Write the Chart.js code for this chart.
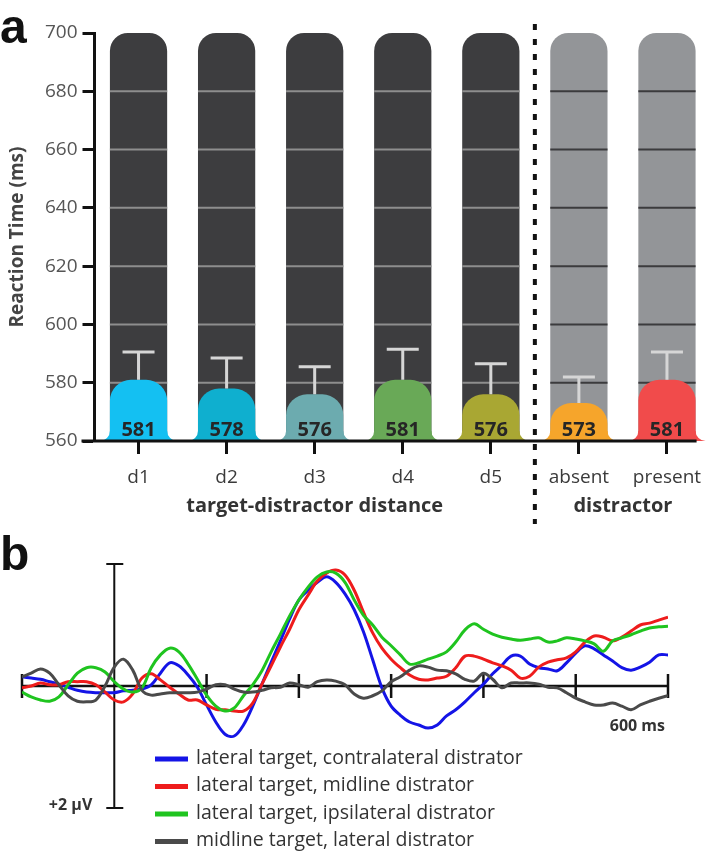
<!DOCTYPE html>
<html>
<head>
<meta charset="utf-8">
<script src="https://cdn.jsdelivr.net/npm/chart.js@4.4.1/dist/chart.umd.min.js"></script>
<style>
  body { margin: 0; background: #fff; }
  #wrap { position: relative; width: 724px; height: 853px; }
  #rtWrap { position: absolute; left: 0; top: 0; }
  #erpWrap { position: absolute; left: 0; top: 530px; }
</style>
</head>
<body>
<div id="wrap">
  <div id="rtWrap"><canvas id="rtChart" width="724" height="530"></canvas></div>
  <div id="erpWrap"><canvas id="erpChart" width="724" height="323"></canvas></div>
</div>
<script>
// ---- panel a: reaction times ----
const categories = ["d1", "d2", "d3", "d4", "d5", "absent", "present"];
const rtMeans = [581, 578, 576, 581, 576, 573, 581];
const rtErrors = [9.5, 10.5, 9.5, 10.5, 10.5, 9, 9.5];
const rtCeiling = [700, 700, 700, 700, 700, 700, 700];
const rtTicks = [560, 580, 600, 620, 640, 660, 680, 700];
const groupLabels = ["target-distractor distance", "distractor"];
const groupMembers = [[0, 1, 2, 3, 4], [5, 6]];

const barColors = ["#14c0f2", "#0fafcf", "#6cabaf", "#69a957", "#a9a733", "#f6a52b", "#f14b4b"];
const backColors = ["#3d3d3f", "#3d3d3f", "#3d3d3f", "#3d3d3f", "#3d3d3f", "#939598", "#939598"];
const innerGridColors = ["#8e8e8e", "#8e8e8e", "#8e8e8e", "#8e8e8e", "#8e8e8e", "#3b3b3d", "#3b3b3d"];

// ---- panel b: ERP waveforms (µV, negative up) ----
const times = [-100, -90, -80, -70, -60, -50, -40, -30, -20, -10,
  0, 10, 20, 30, 40, 50, 60, 70, 80, 90,
  100, 110, 120, 130, 140, 150, 160, 170, 180, 190,
  200, 210, 220, 230, 240, 250, 260, 270, 280, 290,
  300, 310, 320, 330, 340, 350, 360, 370, 380, 390,
  400, 410, 420, 430, 440, 450, 460, 470, 480, 490,
  500, 510, 520, 530, 540, 550, 560, 570, 580, 590, 600];
const timeTicks = [-100, 0, 100, 200, 300, 400, 500, 600];

const contraDistractor = [-0.15, -0.13, -0.11, -0.07, -0.03, 0.02, 0.07, 0.10, 0.11, 0.11,
  0.11, 0.08, 0.07, 0.05, -0.02, -0.21, -0.38, -0.33, -0.18, 0.02,
  0.31, 0.59, 0.79, 0.82, 0.64, 0.33, -0.03, -0.39, -0.74, -1.10,
  -1.41, -1.57, -1.70, -1.79, -1.70, -1.51, -1.25, -0.89, -0.43, 0.03,
  0.33, 0.48, 0.59, 0.64, 0.69, 0.64, 0.49, 0.39, 0.26, 0.11,
  -0.03, -0.20, -0.34, -0.49, -0.49, -0.36, -0.30, -0.28, -0.25, -0.38,
  -0.54, -0.66, -0.61, -0.51, -0.41, -0.30, -0.26, -0.31, -0.39, -0.51, -0.51];
const midlineDistractor = [0.03, 0.00, -0.05, -0.02, -0.02, -0.07, -0.07, -0.07, -0.02, 0.10,
  0.23, 0.26, 0.13, -0.13, -0.20, -0.10, 0.02, 0.13, 0.23, 0.23,
  0.31, 0.38, 0.39, 0.41, 0.41, 0.28, -0.03, -0.33, -0.64, -0.93,
  -1.25, -1.49, -1.72, -1.85, -1.90, -1.82, -1.57, -1.21, -0.87, -0.62,
  -0.44, -0.30, -0.18, -0.11, -0.10, -0.13, -0.16, -0.30, -0.49, -0.49,
  -0.44, -0.38, -0.33, -0.26, -0.13, -0.16, -0.31, -0.39, -0.43, -0.46,
  -0.56, -0.72, -0.82, -0.80, -0.74, -0.80, -0.90, -1.00, -1.03, -1.08, -1.13];
const ipsiDistractor = [0.10, 0.18, 0.23, 0.25, 0.18, -0.02, -0.21, -0.30, -0.30, -0.23,
  -0.07, 0.05, 0.10, 0.03, -0.30, -0.51, -0.62, -0.56, -0.36, -0.11,
  0.15, 0.33, 0.41, 0.36, 0.16, -0.02, -0.25, -0.56, -0.85, -1.15,
  -1.41, -1.62, -1.79, -1.87, -1.85, -1.70, -1.41, -1.16, -1.00, -0.80,
  -0.66, -0.51, -0.36, -0.38, -0.44, -0.49, -0.56, -0.72, -0.92, -1.02,
  -0.93, -0.85, -0.80, -0.77, -0.75, -0.77, -0.79, -0.72, -0.74, -0.79,
  -0.77, -0.74, -0.69, -0.57, -0.74, -0.79, -0.84, -0.90, -0.95, -0.97, -0.98];
const midlineTarget = [-0.15, -0.21, -0.28, -0.21, -0.02, 0.16, 0.25, 0.26, 0.23, 0.00,
  -0.31, -0.44, -0.26, 0.07, 0.15, 0.13, 0.11, 0.11, 0.11, 0.10,
  0.05, -0.02, -0.02, 0.05, 0.10, 0.10, 0.07, 0.03, 0.02, -0.05,
  -0.02, 0.02, -0.07, -0.10, -0.08, -0.02, 0.13, 0.20, 0.16, 0.08,
  -0.07, -0.15, -0.26, -0.33, -0.31, -0.26, -0.25, -0.20, -0.11, -0.08,
  -0.21, -0.11, 0.03, -0.05, -0.05, -0.05, -0.03, 0.02, 0.03, 0.11,
  0.20, 0.26, 0.31, 0.31, 0.28, 0.33, 0.39, 0.31, 0.25, 0.20, 0.16];

const seriesNames = ["lateral target, contralateral distrator", "lateral target, midline distrator",
  "lateral target, ipsilateral distrator", "midline target, lateral distrator"];
const seriesColors = ["#1414e6", "#ee1c1c", "#1fc41f", "#4a4a4a"];
const scaleBarValue = 2;

const FONT = '"Open Sans", "Liberation Sans", sans-serif';

// draws in-bar grid, foot fillets, error bars, value labels, axis line, separator
const rtDecor = {
    id: "rtDecor",
    afterDatasetDraw(chart, args) {
        const ctx = chart.ctx;
        const y = chart.scales.y;
        if (args.index === 1) {
            const meta = chart.getDatasetMeta(1);
            ctx.save();
            ctx.lineWidth = 2;
            meta.data.forEach((bar, i) => {
                ctx.strokeStyle = innerGridColors[i];
                y.ticks.forEach(t => {
                    if (t.value <= y.min || t.value >= y.max) return;
                    const py = y.getPixelForValue(t.value);
                    ctx.beginPath();
                    ctx.moveTo(bar.x - bar.width / 2, py);
                    ctx.lineTo(bar.x + bar.width / 2, py);
                    ctx.stroke();
                });
            });
            ctx.restore();
        }
        if (args.index === 0) {
            const meta = chart.getDatasetMeta(0);
            const base = y.getPixelForValue(y.min);
            const r = 10;
            ctx.save();
            meta.data.forEach((bar, i) => {
                const left = bar.x - bar.width / 2, right = bar.x + bar.width / 2;
                ctx.fillStyle = barColors[i];
                ctx.beginPath();
                ctx.moveTo(left + 1, base - r);
                ctx.lineTo(left + 1, base);
                ctx.lineTo(left - r, base);
                ctx.arc(left - r, base - r, r, Math.PI / 2, 0, true);
                ctx.closePath();
                ctx.fill();
                ctx.beginPath();
                ctx.moveTo(right - 1, base - r);
                ctx.lineTo(right - 1, base);
                ctx.lineTo(right + r, base);
                ctx.arc(right + r, base - r, r, Math.PI / 2, Math.PI, false);
                ctx.closePath();
                ctx.fill();

                // error bar
                const top = y.getPixelForValue(rtMeans[i] + rtErrors[i]);
                ctx.strokeStyle = "#d6d6d6";
                ctx.lineWidth = 3;
                ctx.beginPath();
                ctx.moveTo(bar.x, bar.y);
                ctx.lineTo(bar.x, top);
                ctx.moveTo(bar.x - 16, top);
                ctx.lineTo(bar.x + 16, top);
                ctx.stroke();

                // value label
                ctx.fillStyle = "#262626";
                ctx.font = "bold 20px " + FONT;
                ctx.textAlign = "center";
                ctx.textBaseline = "middle";
                ctx.fillText(String(rtMeans[i]), bar.x, base - 11);
            });
            ctx.restore();
        }
    },
    afterDraw(chart) {
        const ctx = chart.ctx;
        const area = chart.chartArea;
        const x = chart.scales.x;
        const meta = chart.getDatasetMeta(0);
        const last = meta.data[meta.data.length - 1];
        ctx.save();
        // x axis line on top of bars
        ctx.strokeStyle = "#111";
        ctx.lineWidth = 3;
        ctx.beginPath();
        ctx.moveTo(area.left - 13, area.bottom);
        ctx.lineTo(last.x + last.width / 2 + 1, area.bottom);
        ctx.stroke();

        // dotted separator between groups
        const sepX = (x.getPixelForValue(4) + x.getPixelForValue(5)) / 2;
        ctx.lineWidth = 4;
        ctx.setLineDash([6, 9]);
        ctx.beginPath();
        ctx.moveTo(sepX, 24);
        ctx.lineTo(sepX, 524);
        ctx.stroke();
        ctx.setLineDash([]);

        // group labels
        ctx.fillStyle = "#333";
        ctx.font = "bold 20px " + FONT;
        ctx.textAlign = "center";
        ctx.textBaseline = "middle";
        groupLabels.forEach((label, g) => {
            const idx = groupMembers[g];
            const cx = (x.getPixelForValue(idx[0]) + x.getPixelForValue(idx[idx.length - 1])) / 2;
            ctx.fillText(label, cx, 506);
        });

        // panel letter
        ctx.fillStyle = "#111";
        ctx.font = 'bold 48px "Liberation Sans", Arial, sans-serif';
        ctx.textAlign = "left";
        ctx.textBaseline = "alphabetic";
        ctx.fillText("a", 0, 43);
        ctx.restore();
    }
};

new Chart(document.getElementById("rtChart"), {
    type: "bar",
    data: {
        labels: categories,
        datasets: [{
            label: "RT",
            data: rtMeans,
            backgroundColor: barColors,
            borderRadius: { topLeft: 21, topRight: 21, bottomLeft: 0, bottomRight: 0 },
            borderSkipped: false,
            grouped: false,
            categoryPercentage: 1,
            barPercentage: 0.65
        }, {
            label: "range",
            data: rtCeiling,
            backgroundColor: backColors,
            borderRadius: { topLeft: 18, topRight: 18, bottomLeft: 0, bottomRight: 0 },
            borderSkipped: false,
            grouped: false,
            categoryPercentage: 1,
            barPercentage: 0.65
        }]
    },
    options: {
        responsive: false,
        animation: false,
        layout: { padding: { top: 33, right: 13, left: 0, bottom: 0 } },
        plugins: { legend: { display: false }, tooltip: { enabled: false } },
        scales: {
            x: {
                afterFit: s => { s.height = 89; },
                border: { display: false },
                grid: { offset: false, drawOnChartArea: false, drawTicks: true, tickLength: 13, tickWidth: 3, tickColor: "#111" },
                ticks: { color: "#3a3a3a", padding: 12, font: { family: FONT, size: 19 } }
            },
            y: {
                min: 560,
                max: 700,
                afterFit: s => { s.width = 94.5; },
                afterBuildTicks: s => { s.ticks = rtTicks.map(v => ({ value: v })); },
                border: { display: true, width: 3, color: "#111" },
                grid: { drawOnChartArea: false, drawTicks: true, tickLength: 12, tickWidth: 3, tickColor: "#111" },
                ticks: { color: "#555", padding: 5, font: { family: FONT, size: 19 } },
                title: {
                    display: true,
                    text: "Reaction Time (ms)",
                    color: "#444",
                    padding: { top: 6, bottom: 0 },
                    font: { family: FONT, size: 19, weight: "bold" }
                }
            }
        }
    },
    plugins: [rtDecor]
});

// ---- panel b ----
const erpDecor = {
    id: "erpDecor",
    beforeDatasetsDraw(chart) {
        const ctx = chart.ctx;
        const x = chart.scales.x, y = chart.scales.y;
        const y0 = y.getPixelForValue(0);
        ctx.save();
        ctx.strokeStyle = "#111";
        ctx.lineWidth = 2.5;
        ctx.beginPath();
        ctx.moveTo(x.getPixelForValue(timeTicks[0]), y0);
        ctx.lineTo(x.getPixelForValue(timeTicks[timeTicks.length - 1]), y0);
        ctx.stroke();
        timeTicks.forEach(t => {
            if (t === 0) return;
            const px = x.getPixelForValue(t);
            ctx.beginPath();
            ctx.moveTo(px, y0 - 12);
            ctx.lineTo(px, y0 + 12);
            ctx.stroke();
        });
        // amplitude scale bar at stimulus onset
        const px0 = x.getPixelForValue(0);
        const top = y.getPixelForValue(-scaleBarValue), bot = y.getPixelForValue(scaleBarValue);
        ctx.lineWidth = 2;
        ctx.beginPath();
        ctx.moveTo(px0, top);
        ctx.lineTo(px0, bot);
        ctx.moveTo(px0 - 8, top);
        ctx.lineTo(px0 + 9, top);
        ctx.moveTo(px0 - 8, bot);
        ctx.lineTo(px0 + 9, bot);
        ctx.stroke();
        ctx.restore();
    },
    afterDraw(chart) {
        const ctx = chart.ctx;
        const x = chart.scales.x, y = chart.scales.y;
        const y0 = y.getPixelForValue(0);
        ctx.save();
        ctx.fillStyle = "#333";
        ctx.font = "bold 16px " + FONT;
        ctx.textBaseline = "middle";
        ctx.textAlign = "right";
        ctx.fillText("+" + scaleBarValue + " \u00b5V", x.getPixelForValue(0) - 22, y.getPixelForValue(scaleBarValue) - 3);
        ctx.fillText(timeTicks[timeTicks.length - 1] + " ms", x.getPixelForValue(600) - 3, y0 + 40);

        // legend
        ctx.font = "19.5px " + FONT;
        ctx.textAlign = "left";
        seriesNames.forEach((name, i) => {
            const ly = 229 + i * 27.5;
            ctx.strokeStyle = seriesColors[i];
            ctx.lineWidth = 5;
            ctx.beginPath();
            ctx.moveTo(155, ly);
            ctx.lineTo(188, ly);
            ctx.stroke();
            ctx.fillStyle = "#333";
            ctx.fillText(name, 196, ly - 1);
        });

        ctx.fillStyle = "#111";
        ctx.font = 'bold 48px "Liberation Sans", Arial, sans-serif';
        ctx.textBaseline = "alphabetic";
        ctx.fillText("b", 0, 40);
        ctx.restore();
    }
};

const erpSeries = [contraDistractor, midlineDistractor, ipsiDistractor, midlineTarget];
new Chart(document.getElementById("erpChart"), {
    type: "line",
    data: {
        datasets: erpSeries.map((vals, i) => ({
            label: seriesNames[i],
            data: vals.map((v, k) => ({ x: times[k], y: v })),
            borderColor: seriesColors[i],
            borderWidth: 3,
            pointRadius: 0,
            tension: 0.35,
            fill: false,
            order: 4 - i
        }))
    },
    options: {
        responsive: false,
        animation: false,
        layout: { padding: { top: 9.6, bottom: 14.5, left: 22, right: 56 } },
        plugins: { legend: { display: false }, tooltip: { enabled: false } },
        scales: {
            x: { type: "linear", min: -100, max: 600, display: false },
            y: { min: -2.4, max: 2.5, reverse: true, display: false }
        }
    },
    plugins: [erpDecor]
});
</script>
</body>
</html>
